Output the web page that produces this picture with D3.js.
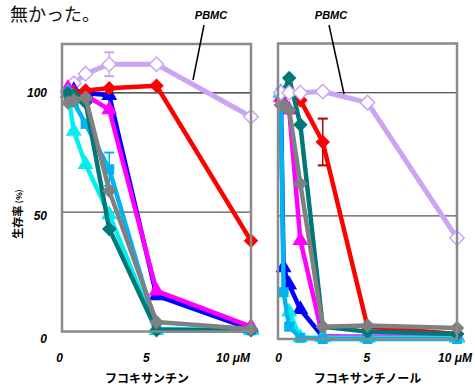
<!DOCTYPE html>
<html>
<head>
<meta charset="utf-8">
<script src="https://cdn.jsdelivr.net/npm/d3@7"></script>
<style>
body { margin: 0; background: #fff; }
svg { display: block; }
</style>
</head>
<body>
<script>
// concentrations (uM)
let xLeft = [0.3125, 0.625, 1.25, 2.5, 5, 10];
let xRight = [0.156, 0.3125, 0.625, 1.25, 2.5, 5, 10];

// survival (%) - fucoxanthin
let pbmcL    = [101, 104, 108, 112, 112, 90];
let redL     = [99, 100, 101, 102, 103, 38];
let blueL    = [100, 101, 100, 99, 15, 1];
let magentaL = [102, 100, 99, 93, 17, 2];
let cyanL    = [100, 84, 70, 49, 0.5, 0.5];
let skyL     = [100, 96, 87, 68, 1, 0.5];
let tealL    = [100, 99, 96, 43, 0.5, 0.5];
let grayL    = [96, 97, 98, 59, 4, 1];

// survival (%) - fucoxanthinol
let pbmcR    = [100, null, 100, 100, 100.5, 96, 41];
let redR     = [100, 100, 100, 97, 80, 5, 2];
let blueR    = [100, 29, 22, 12, 1, 0.5, 0.5];
let magentaR = [98, 96, 93, 40, 1, 1, 1];
let cyanR    = [100, null, 11, 0.5, 0.5, 0.5, 0.5];
let skyR     = [100, 19, 5, 0.5, 0, 0, 0];
let tealR    = [100, 100, 106, 87, 5, 3, 2];
let grayR    = [95, 95, 93, 63, 5, 5.5, 4.5];

// error bars: [series, x, err]
let errL = [["pbmc", 2.5, 5], ["sky", 2.5, 7]];
let errR = [["red", 2.5, 9.5]];

let yTicks = [0, 50, 100];
let xTicks = [0, 5, 10];
let xTickText = ["0", "5", "10 \u03bcM"];

let width = 475;
let height = 390;

let style = {
    pbmc:    {color: "#c8a6f4", sym: "diamondW", lw: 5},
    red:     {color: "#ff0000", sym: "diamond", lw: 4.5},
    blue:    {color: "#0000ff", sym: "triangle", lw: 4.5},
    magenta: {color: "#ff00ff", sym: "triangle", lw: 4.5},
    cyan:    {color: "#00f0f0", sym: "triangle", lw: 4.5},
    sky:     {color: "#00b4f0", sym: "square", lw: 4.5},
    teal:    {color: "#007878", sym: "diamond", lw: 4.5},
    gray:    {color: "#808080", sym: "diamond", lw: 4.5}
};

let svg = d3.select("body").append("svg")
    .attr("width", width)
    .attr("height", height);

svg.append("text")
    .attr("x", 10)
    .attr("y", 20.5)
    .text("無かった。")
    .style("font-family", "Noto Sans CJK JP")
    .style("font-size", "18px")
    .style("fill", "#111");

function panel(opt) {
    let xScale = d3.scaleLinear().domain([0, 10]).range(opt.xRange);
    let yScale = d3.scaleLinear().domain([0, opt.yMax]).range(opt.yRange);
    let g = svg.append("g");

    // gridlines at 50 / 100
    g.selectAll("line.grid")
        .data([50, 100])
        .join("line")
        .attr("class", "grid")
        .attr("x1", opt.xRange[0])
        .attr("x2", opt.xRange[1])
        .attr("y1", d => yScale(d))
        .attr("y2", d => yScale(d))
        .attr("stroke", d => d == 100 ? "#222" : "#555")
        .attr("stroke-width", 1.2);

    let line = d3.line()
        .defined(d => d.y != null)
        .x(d => xScale(d.x))
        .y(d => yScale(d.y));

    let symTri = d3.symbol().type(d3.symbolTriangle).size(110);
    let symSq = d3.symbol().type(d3.symbolSquare).size(100);
    let symDia = d3.symbol().type(d3.symbolSquare).size(105);

    opt.series.forEach(([key, vals]) => {
        let st = style[key];
        let pts = vals.map((v, i) => ({x: opt.xs[i], y: v}));
        g.append("path")
            .attr("d", line(pts))
            .attr("fill", "none")
            .attr("stroke", st.color)
            .attr("stroke-width", st.lw)
            .attr("stroke-linejoin", "round");

        opt.errs.filter(e => e[0] == key).forEach(e => {
            let v = vals[opt.xs.indexOf(e[1])];
            let ex = xScale(e[1]);
            let c = key == "red" ? "#b80000" : st.color;
            g.append("line")
                .attr("x1", ex).attr("x2", ex)
                .attr("y1", yScale(v - e[2])).attr("y2", yScale(v + e[2]))
                .attr("stroke", c).attr("stroke-width", 1.5);
            [v - e[2], v + e[2]].forEach(yy => {
                g.append("line")
                    .attr("x1", ex - 5).attr("x2", ex + 5)
                    .attr("y1", yScale(yy)).attr("y2", yScale(yy))
                    .attr("stroke", c).attr("stroke-width", 2);
            });
        });

        let mk = g.selectAll(null)
            .data(pts.filter(d => d.y != null))
            .join("path")
            .attr("stroke-linejoin", "round");
        if (st.sym == "triangle") {
            mk.attr("d", symTri)
                .attr("transform", d => "translate(" + xScale(d.x) + "," + yScale(d.y) + ")")
                .attr("fill", st.color);
        } else if (st.sym == "square") {
            mk.attr("d", symSq)
                .attr("transform", d => "translate(" + xScale(d.x) + "," + yScale(d.y) + ")")
                .attr("fill", st.color);
        } else {
            mk.attr("d", symDia)
                .attr("transform", d => "translate(" + xScale(d.x) + "," + yScale(d.y) + ") rotate(45)")
                .attr("fill", st.sym == "diamondW" ? "#fff" : st.color)
                .attr("stroke", st.color)
                .attr("stroke-width", st.sym == "diamondW" ? 1.5 : 0);
        }
    });

    // frame
    g.append("rect")
        .attr("x", opt.xRange[0])
        .attr("y", yScale(opt.yMax))
        .attr("width", opt.xRange[1] - opt.xRange[0])
        .attr("height", yScale(0) - yScale(opt.yMax))
        .attr("fill", "none")
        .attr("stroke", "#8a8a8a")
        .attr("stroke-width", 2.5);

    // x tick labels
    let xl = d3.scaleLinear().domain([0, 10]).range(opt.xLabRange);
    g.selectAll("text.xt")
        .data(xTicks)
        .join("text")
        .attr("class", "xt")
        .attr("x", d => xl(d))
        .attr("y", 362)
        .attr("text-anchor", "middle")
        .text((d, i) => xTickText[i])
        .style("font-family", "Liberation Sans")
        .style("font-weight", "bold")
        .style("font-style", "italic")
        .style("font-size", "12px");

    g.append("text")
        .attr("x", (opt.xRange[0] + opt.xRange[1]) / 2 - opt.titleShift)
        .attr("y", 383)
        .attr("text-anchor", "middle")
        .text(opt.title)
        .style("font-family", "Noto Sans CJK JP")
        .style("font-weight", "bold")
        .style("font-size", "12px");

    // PBMC label
    g.append("line")
        .attr("x1", opt.pbmc[0]).attr("y1", 25)
        .attr("x2", opt.pbmc[1]).attr("y2", opt.pbmc[2])
        .attr("stroke", "#000").attr("stroke-width", 1.5);
    g.append("text")
        .attr("x", opt.pbmc[3])
        .attr("y", 19)
        .attr("text-anchor", "middle")
        .text("PBMC")
        .style("font-family", "Liberation Sans")
        .style("font-weight", "bold")
        .style("font-style", "italic")
        .style("font-size", "11px");
}

panel({
    xs: xLeft,
    xRange: [62, 251],
    yRange: [331.5, 44],
    yMax: 120.5,
    xLabRange: [59.5, 233],
    title: "フコキサンチン",
    titleShift: 9.5,
    pbmc: [204, 193, 80, 211],
    errs: errL,
    series: [["pbmc", pbmcL], ["blue", blueL], ["magenta", magentaL], ["red", redL],
             ["cyan", cyanL], ["sky", skyL], ["teal", tealL], ["gray", grayL]]
});

panel({
    xs: xRight,
    xRange: [278, 457],
    yRange: [339, 43.5],
    yMax: 120,
    xLabRange: [278.5, 455],
    title: "フコキサンチノール",
    titleShift: 0,
    pbmc: [329, 344, 94, 331],
    errs: errR,
    series: [["blue", blueR], ["magenta", magentaR], ["red", redR], ["cyan", cyanR],
             ["sky", skyR], ["teal", tealR], ["gray", grayR], ["pbmc", pbmcR]]
});

// y tick labels (left only)
let yl = d3.scaleLinear().domain([0, 100]).range([338.5, 93]);
svg.selectAll("text.yt")
    .data(yTicks)
    .join("text")
    .attr("class", "yt")
    .attr("x", 47)
    .attr("y", d => yl(d) + 4)
    .attr("text-anchor", "end")
    .text(d => d)
    .style("font-family", "Liberation Sans")
    .style("font-weight", "bold")
    .style("font-style", "italic")
    .style("font-size", "12px");

let yTitle = svg.append("text")
    .attr("transform", "translate(22,214) rotate(-90)")
    .attr("text-anchor", "middle")
    .style("font-family", "Noto Sans CJK JP")
    .style("font-weight", "bold")
    .style("font-size", "11px");
yTitle.append("tspan").text("生存率 ");
yTitle.append("tspan").text("(%)").style("font-size", "8px");
</script>
</body>
</html>
